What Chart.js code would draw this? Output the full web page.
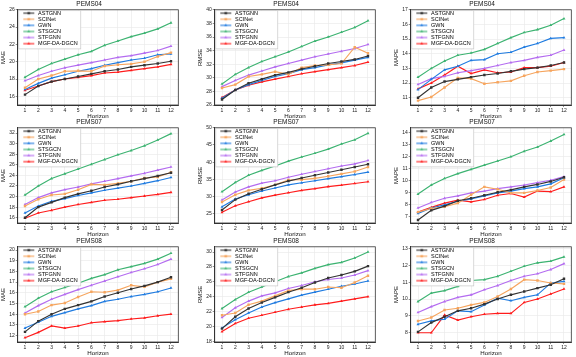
<!DOCTYPE html>
<html>
<head>
<meta charset="utf-8">
<script src="https://cdn.jsdelivr.net/npm/chart.js@4.4.0/dist/chart.umd.min.js"></script>
<style>
  html, body { margin: 0; padding: 0; background: #fff; }
  #wrap { position: relative; width: 576px; height: 357px; overflow: hidden; }
  #wrap canvas { position: absolute; }
</style>
</head>
<body>
<div id="wrap"></div>
<script>
const FONT = "'Liberation Sans', Arial, sans-serif";

const models = ['ASTGNN', 'SCINet', 'GWN', 'STSGCN', 'STFGNN', 'MGF-DA-DGCN'];
const colors = ['#333333', '#f6a55e', '#1f7be0', '#3cb371', '#b46cf0', '#ff1c1c'];
const markers = ['rect', 'rect', 'triangle', 'triangle', 'triangle', 'triangle'];
const horizons = [1, 2, 3, 4, 5, 6, 7, 8, 9, 10, 11, 12];

// rows follow the order of models
const pems04MAE = [
  [16.2, 17.2, 17.7, 18.0, 18.3, 18.6, 18.9, 19.1, 19.4, 19.6, 19.8, 20.05],
  [17.0, 18.0, 18.4, 18.9, 18.95, 18.9, 19.5, 19.65, 19.75, 20.0, 20.6, 21.05],
  [16.8, 17.5, 18.1, 18.5, 18.9, 19.2, 19.6, 19.9, 20.2, 20.4, 20.8, 20.9],
  [18.2, 19.1, 19.8, 20.3, 20.8, 21.2, 21.9, 22.4, 22.9, 23.3, 23.8, 24.5],
  [17.8, 18.4, 18.9, 19.3, 19.6, 19.9, 20.2, 20.5, 20.7, 21.0, 21.3, 21.8],
  [16.7, 17.2, 17.7, 18.0, 18.2, 18.4, 18.7, 18.8, 19.0, 19.2, 19.4, 19.7]
];
const pems04RMSE = [
  [26.8, 28.2, 29.2, 29.8, 30.4, 30.8, 31.3, 31.7, 32.1, 32.4, 32.7, 33.2],
  [28.5, 29.0, 30.2, 30.5, 30.9, 30.5, 31.5, 31.8, 31.9, 32.1, 34.5, 33.6],
  [27.0, 28.2, 29.0, 29.6, 30.2, 30.6, 31.2, 31.5, 31.9, 32.2, 32.6, 33.0],
  [29.1, 30.5, 31.5, 32.4, 33.1, 33.8, 34.6, 35.4, 36.0, 36.7, 37.4, 38.4],
  [28.7, 29.6, 30.4, 31.0, 31.6, 32.1, 32.6, 33.1, 33.5, 33.9, 34.3, 34.9],
  [27.1, 28.2, 28.9, 29.4, 29.8, 30.2, 30.6, 30.9, 31.2, 31.5, 31.8, 32.3]
];
const pems04MAPE = [
  [11.0, 11.7, 12.1, 12.25, 12.4, 12.55, 12.65, 12.8, 12.95, 13.05, 13.2, 13.4],
  [10.8, 11.05, 11.7, 12.35, 12.3, 11.95, 12.05, 12.15, 12.5, 12.75, 12.85, 12.95],
  [11.55, 12.25, 12.9, 13.15, 13.55, 13.6, 14.0, 14.1, 14.45, 14.7, 15.05, 15.1],
  [12.4, 13.0, 13.5, 13.9, 14.05, 14.3, 14.7, 15.1, 15.45, 15.65, 15.95, 16.4],
  [11.9, 12.3, 12.45, 12.7, 12.85, 13.0, 13.2, 13.4, 13.55, 13.75, 13.9, 14.25],
  [11.6, 12.0, 12.55, 13.15, 12.65, 12.9, 12.7, 12.75, 13.05, 13.05, 13.15, 13.4]
];
const pems07MAE = [
  [16.0, 18.0, 18.9, 19.8, 20.5, 21.1, 21.8, 22.3, 22.9, 23.4, 23.9, 24.5],
  [18.2, 19.5, 20.3, 20.5, 21.3, 22.3, 22.2, 22.5, 22.9, 23.5, 23.7, 24.6],
  [16.9, 18.2, 19.1, 19.6, 20.2, 20.7, 21.2, 21.6, 22.0, 22.5, 23.0, 23.6],
  [20.3, 22.0, 23.4, 24.3, 25.2, 26.1, 27.0, 27.9, 28.7, 29.6, 30.7, 31.9],
  [18.5, 19.8, 20.7, 21.3, 21.8, 22.4, 22.9, 23.4, 23.9, 24.4, 25.0, 25.6],
  [15.9, 16.9, 17.4, 18.0, 18.5, 18.9, 19.3, 19.5, 19.8, 20.1, 20.4, 20.8]
];
const pems07RMSE = [
  [26.1, 29.1, 30.8, 32.1, 33.4, 34.5, 35.4, 36.2, 37.0, 37.8, 38.6, 39.4],
  [28.4, 30.5, 31.8, 32.4, 33.4, 34.8, 34.9, 35.3, 35.9, 36.6, 37.3, 38.6],
  [27.0, 29.3, 30.5, 31.6, 32.5, 33.4, 34.0, 34.6, 35.2, 35.8, 36.4, 37.1],
  [31.4, 34.1, 36.2, 37.6, 38.9, 40.3, 41.5, 42.6, 43.8, 45.3, 46.5, 48.4],
  [29.0, 31.3, 32.8, 33.9, 34.6, 35.6, 36.5, 37.3, 38.1, 38.9, 39.5, 40.5],
  [25.4, 27.3, 28.5, 29.6, 30.4, 31.1, 31.8, 32.3, 32.9, 33.3, 33.8, 34.3]
];
const pems07MAPE = [
  [6.75, 7.55, 7.9, 8.35, 8.55, 8.8, 9.05, 9.25, 9.5, 9.7, 9.95, 10.3],
  [7.4, 7.7, 7.85, 8.15, 8.85, 9.5, 9.3, 9.0, 9.0, 9.2, 9.45, 10.1],
  [7.3, 7.75, 8.0, 8.3, 8.5, 8.75, 9.0, 9.15, 9.35, 9.5, 9.75, 10.25],
  [8.9, 9.65, 10.2, 10.6, 10.95, 11.3, 11.65, 12.0, 12.45, 12.8, 13.3, 13.85],
  [7.75, 8.2, 8.55, 8.75, 9.0, 9.15, 9.35, 9.5, 9.65, 9.85, 10.05, 10.35],
  [7.4, 7.8, 8.15, 8.4, 8.25, 8.45, 8.8, 8.95, 8.65, 9.15, 9.1, 9.5]
];
const pems08MAE = [
  [12.35, 13.35, 14.0, 14.5, 14.85, 15.2, 15.65, 16.0, 16.35, 16.65, 17.0, 17.45],
  [14.0, 14.25, 14.85, 15.05, 15.6, 16.1, 16.05, 16.25, 16.7, 16.55, 17.0, 17.3],
  [12.7, 13.25, 13.8, 14.15, 14.5, 14.8, 15.2, 15.4, 15.65, 15.85, 16.1, 16.45],
  [14.7, 15.5, 16.1, 16.5, 16.9, 17.35, 17.7, 18.15, 18.45, 18.75, 19.15, 19.7],
  [14.1, 14.8, 15.4, 15.85, 16.3, 16.7, 17.1, 17.5, 17.9, 18.25, 18.65, 19.15],
  [11.8, 12.3, 12.9, 12.7, 12.9, 13.2, 13.3, 13.4, 13.55, 13.65, 13.85, 14.0]
];
const pems08RMSE = [
  [19.7, 21.3, 22.4, 23.2, 23.9, 24.6, 25.2, 25.9, 26.5, 26.9, 27.4, 28.1],
  [21.5, 21.8, 22.9, 23.4, 24.1, 24.8, 25.0, 25.0, 25.3, 25.2, 25.9, 26.8],
  [19.8, 20.9, 21.8, 22.6, 23.2, 23.7, 24.2, 24.6, 25.0, 25.4, 25.7, 26.1],
  [22.4, 23.6, 24.6, 25.3, 26.0, 26.7, 27.2, 27.8, 28.3, 28.6, 29.2, 30.0],
  [21.2, 22.5, 23.4, 24.1, 24.5, 25.1, 25.5, 26.0, 26.3, 26.5, 26.9, 27.5],
  [19.3, 20.4, 21.1, 21.5, 21.9, 22.3, 22.6, 22.9, 23.1, 23.4, 23.7, 24.0]
];
const pems08MAPE = [
  [8.05, 8.6, 8.95, 9.3, 9.45, 9.7, 10.0, 10.25, 10.45, 10.65, 10.85, 11.2],
  [8.7, 8.9, 9.35, 9.45, 9.65, 9.8, 10.15, 10.6, 11.15, 11.1, 10.95, 10.9],
  [8.5, 8.7, 8.8, 9.3, 9.25, 9.65, 10.05, 9.9, 10.1, 10.25, 10.95, 11.05],
  [9.85, 10.35, 10.5, 10.75, 11.1, 11.15, 11.35, 11.65, 11.95, 12.15, 12.25, 12.5],
  [9.2, 9.55, 9.85, 10.1, 10.25, 10.55, 10.8, 11.1, 11.35, 11.5, 11.75, 12.1],
  [8.0, 8.0, 9.05, 8.75, 8.95, 9.1, 9.15, 9.15, 9.8, 10.0, 10.3, 10.6]
];

// y tick labels for each panel
const ticks04MAE = [16, 18, 20, 22, 24, 26];
const ticks04RMSE = [26, 28, 30, 32, 34, 36, 38, 40];
const ticks04MAPE = [11, 12, 13, 14, 15, 16, 17];
const ticks07MAE = [16, 18, 20, 22, 24, 26, 28, 30, 32];
const ticks07RMSE = [25, 30, 35, 40, 45, 50];
const ticks07MAPE = [7, 8, 9, 10, 11, 12, 13, 14];
const ticks08MAE = [12, 13, 14, 15, 16, 17, 18, 19, 20];
const ticks08RMSE = [18, 20, 22, 24, 26, 28, 30];
const ticks08MAPE = [8, 9, 10, 11, 12, 13];

// [data, title, metric, yMin, yMax, ticks]
const panels = [
  [pems04MAE, 'PEMS04', 'MAE', 15, 26, ticks04MAE],
  [pems04RMSE, 'PEMS04', 'RMSE', 26, 40, ticks04RMSE],
  [pems04MAPE, 'PEMS04', 'MAPE', 10.5, 17, ticks04MAPE],
  [pems07MAE, 'PEMS07', 'MAE', 15, 33, ticks07MAE],
  [pems07RMSE, 'PEMS07', 'RMSE', 22.3, 50, ticks07RMSE],
  [pems07MAPE, 'PEMS07', 'MAPE', 6.5, 14.4, ticks07MAPE],
  [pems08MAE, 'PEMS08', 'MAE', 11.4, 20.3, ticks08MAE],
  [pems08RMSE, 'PEMS08', 'RMSE', 17.9, 30.7, ticks08RMSE],
  [pems08MAPE, 'PEMS08', 'MAPE', 7.45, 13.1, ticks08MAPE]
];

const colLeft = [0, 197, 393];
const rowTop = [0, 118, 237];

// small line + marker picture for the legend entries
function legendIcon(color, marker) {
  const c = document.createElement('canvas');
  c.width = 17;
  c.height = 6;
  const g = c.getContext('2d');
  g.strokeStyle = color;
  g.fillStyle = color;
  g.lineWidth = 1.1;
  g.beginPath();
  g.moveTo(5, 3);
  g.lineTo(16, 3);
  g.stroke();
  Chart.helpers.drawPoint(g, { pointStyle: marker, radius: 1.7, borderWidth: 0, rotation: 0 }, 10.5, 3);
  return c;
}
const icons = models.map((m, i) => legendIcon(colors[i], markers[i]));

// the chartArea legend comes out at the top of the canvas, move it down into the plot
const legendInside = {
  id: 'legendInside',
  afterLayout(chart) {
    const lg = chart.legend;
    const dy = chart.chartArea.top - lg.top;
    lg.top += dy;
    lg.bottom += dy;
    lg.legendHitBoxes.forEach(b => { b.top += dy; });
  },
  // frame round the plot, and the legend drawn over the lines in a white box
  afterDatasetsDraw(chart) {
    const { ctx, chartArea: a } = chart;
    ctx.save();
    ctx.strokeStyle = '#333';
    ctx.lineWidth = 0.8;
    ctx.strokeRect(a.left, a.top, a.right - a.left, a.bottom - a.top);
    const boxes = chart.legend.legendHitBoxes;
    if (boxes && boxes.length) {
      const l = Math.min(...boxes.map(b => b.left)) + 0.5;
      const t = Math.min(...boxes.map(b => b.top)) + 0.3;
      const r = Math.max(...boxes.map(b => b.left + b.width)) + 3;
      const bt = Math.max(...boxes.map(b => b.top + b.height)) + 2.5;
      ctx.fillStyle = '#fff';
      ctx.fillRect(l, t, r - l, bt - t);
      ctx.strokeStyle = '#c8c8c8';
      ctx.lineWidth = 0.7;
      ctx.strokeRect(l, t, r - l, bt - t);
    }
    ctx.restore();
    chart.legend.draw();
  }
};

const wrap = document.getElementById('wrap');

panels.forEach((p, k) => {
  const [rows, title, metric, yMin, yMax, yTicks] = p;
  const col = k % 3, row = Math.floor(k / 3);

  const canvas = document.createElement('canvas');
  canvas.width = 183;
  canvas.height = 120;
  canvas.style.left = colLeft[col] + 'px';
  canvas.style.top = rowTop[row] + 'px';
  wrap.appendChild(canvas);

  new Chart(canvas.getContext('2d'), {
    type: 'line',
    data: {
      datasets: rows.map((vals, i) => ({
        label: models[i],
        data: vals.map((v, j) => ({ x: horizons[j], y: v })),
        borderColor: colors[i],
        backgroundColor: colors[i],
        pointBackgroundColor: colors[i],
        borderWidth: 1.15,
        pointStyle: markers[i],
        pointRadius: 1.7,
        pointBorderWidth: 0,
        tension: 0
      }))
    },
    options: {
      responsive: false,
      animation: false,
      layout: { padding: { left: 0, right: 4.7, top: 0, bottom: 0 } },
      plugins: {
        title: {
          display: true,
          text: title,
          color: '#111',
          font: { family: FONT, size: 6.5, weight: 'normal' },
          padding: { top: 0.5, bottom: 1.5 }
        },
        legend: {
          position: 'chartArea',
          align: 'start',
          labels: {
            usePointStyle: true,
            pointStyleWidth: 17,
            padding: 0.6,
            color: '#111',
            font: { family: FONT, size: 5.5 },
            generateLabels: chart => chart.data.datasets.map((ds, i) => ({
              text: ds.label,
              pointStyle: icons[i],
              fillStyle: colors[i],
              strokeStyle: colors[i],
              lineWidth: 0,
              hidden: false,
              datasetIndex: i
            }))
          }
        },
        tooltip: { enabled: false }
      },
      scales: {
        x: {
          type: 'linear',
          min: 0.45,
          max: 12.55,
          afterBuildTicks: s => { s.ticks = horizons.map(v => ({ value: v })); },
          afterFit: s => { s.height = 15; },
          ticks: { color: '#222', font: { family: FONT, size: 5 }, padding: 1, maxRotation: 0, autoSkip: false },
          grid: { color: '#e8e8e8', lineWidth: 0.6, tickLength: 2, tickColor: '#444' },
          border: { color: '#333' },
          title: { display: true, text: 'Horizon', color: '#111', font: { family: FONT, size: 6.2 }, padding: { top: 0, bottom: 0 } }
        },
        y: {
          min: yMin,
          max: yMax,
          afterBuildTicks: s => { s.ticks = yTicks.map(v => ({ value: v })); },
          afterFit: s => { s.width = 17.7; },
          ticks: { color: '#222', font: { family: FONT, size: 5 }, padding: 1 },
          grid: { color: '#e8e8e8', lineWidth: 0.6, tickLength: 2, tickColor: '#444' },
          border: { color: '#333' },
          title: { display: true, text: metric, color: '#111', font: { family: FONT, size: 6 }, padding: { top: 0, bottom: 0 } }
        }
      }
    },
    plugins: [legendInside]
  });
});
</script>
</body>
</html>
